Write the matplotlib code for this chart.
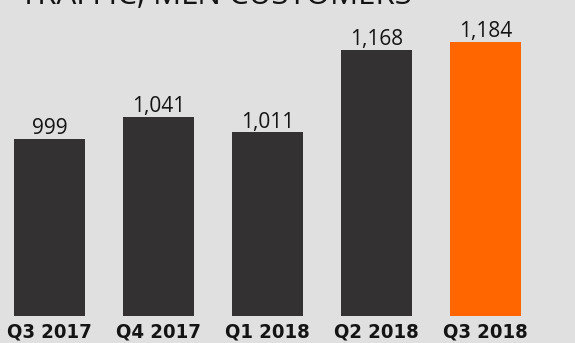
import matplotlib
matplotlib.use("Agg")
import matplotlib.pyplot as plt
from matplotlib import font_manager

quarters = ["Q3 2017", "Q4 2017", "Q1 2018", "Q2 2018", "Q3 2018"]
traffic = [999, 1041, 1011, 1168, 1184]
value_labels = ["999", "1,041", "1,011", "1,168", "1,184"]

BG = "#e0e0e0"
DARK = "#333132"
ORANGE = "#ff6600"
colors = [DARK, DARK, DARK, DARK, ORANGE]


def narrow_font():
    """Pick a condensed bold face for the quarter labels if one is installed."""
    tries = [
        dict(family="Liberation Sans Narrow", weight="bold"),
        dict(family="DejaVu Sans", stretch="condensed", weight="bold"),
        dict(family="Roboto Condensed", weight="bold"),
    ]
    for t in tries:
        fp = font_manager.FontProperties(**t)
        try:
            path = font_manager.findfont(fp, fallback_to_default=False)
        except Exception:
            continue
        name = path.lower()
        if "narrow" in name or "condensed" in name:
            return font_manager.FontProperties(fname=path)
    return font_manager.FontProperties(family="Roboto", weight="bold")


W, H = 575, 343
fig = plt.figure(figsize=(W / 100, H / 100), dpi=100, facecolor=BG)
bottom_px = 316
ax = fig.add_axes([0, (H - bottom_px) / H, 1, bottom_px / H])
ax.set_facecolor(BG)

x = list(range(len(quarters)))
ax.bar(x, traffic, width=0.66, color=colors, zorder=2)

ax.set_xlim(-49.5 / 109, (W - 49.5) / 109)
ax.set_ylim(660, 1264)

for xi, v, lab in zip(x, traffic, value_labels):
    ax.annotate(lab, (xi, v), xytext=(0, 3.5), textcoords="offset points",
                ha="center", va="baseline", fontsize=15,
                family=["Open Sans", "DejaVu Sans"], color="#141414")

tick_fp = narrow_font()
tick_fp.set_size(14.5)
ax.set_xticks(x)
ax.set_xticklabels(quarters, fontproperties=tick_fp, color="#141414")
ax.tick_params(axis="x", length=0, pad=4.5)
ax.set_yticks([])
for s in ax.spines.values():
    s.set_visible(False)

fig.text(20 / W, 1 - 3.5 / H, "TRAFFIC, MLN CUSTOMERS", fontsize=22.5,
         family=["Open Sans", "DejaVu Sans"], color="#141414",
         ha="left", va="baseline")

fig.savefig("out.png", dpi=100, facecolor=BG)
